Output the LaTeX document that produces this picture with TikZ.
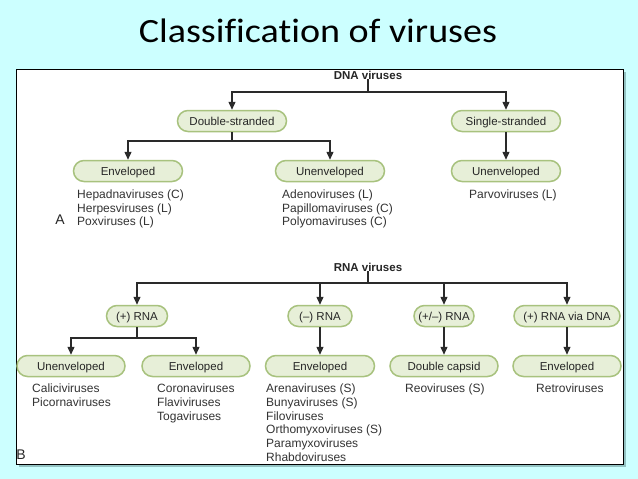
\documentclass[tikz,border=0pt]{standalone}
\usepackage{fontspec}
\setmainfont{Liberation Sans}
\newfontfamily\titlefont[Ligatures=NoCommon]{Carlito}
\usetikzlibrary{arrows.meta}
\definecolor{bgcyan}{HTML}{CCFFFF}
\definecolor{boxfill}{HTML}{E7EFD8}
\definecolor{boxline}{HTML}{A8C27E}
\definecolor{lncol}{HTML}{2A2A2A}
\definecolor{shadowcol}{HTML}{6E9A9A}
\begin{document}
\begin{tikzpicture}[x=1pt,y=-1pt,
  catbox/.style={draw=boxline,line width=1.5pt,fill=boxfill,rounded corners=10.5pt,
    minimum height=21pt,inner sep=0pt,text height=9.5pt,text depth=1.5pt,
    font=\fontsize{11.5}{13.5}\selectfont,text=black!85},
  headlbl/.style={font=\fontsize{11.5}{13.5}\selectfont\bfseries,inner sep=0pt,text=black!85},
  vlist/.style={anchor=north west,align=left,inner sep=0pt,font=\fontsize{12}{13.7}\selectfont,text=black!80},
  conn/.style={draw=lncol,line width=1.3pt},
  arr/.style={conn,-{Triangle[length=8pt,width=7pt]}},
  panlbl/.style={font=\fontsize{14}{16}\selectfont,inner sep=0pt,text=black!85}
]
\useasboundingbox (0,0) rectangle (638,479);
\fill[bgcyan] (0,0) rectangle (638,479);
\node[font=\titlefont\fontsize{34}{40}\selectfont,inner sep=0pt,anchor=base] (title) at (318,42) {\scalebox{1.12}[1]{Classification of viruses}};
% panel
\fill[shadowcol,opacity=0.6] (19,72) rectangle (626,467);
\draw[black,line width=1pt,fill=white] (16,69) rectangle (623,464);

% ---------- DNA ----------
\node[headlbl] (dna) at (368,75) {DNA viruses};
\coordinate (dbar) at (368,92);
\node[catbox,minimum width=109pt] (ds) at (232,121) {Double-stranded};
\node[catbox,minimum width=109pt] (ss) at (506,121) {Single-stranded};
\node[catbox,minimum width=109pt] (denv) at (128,171) {Enveloped};
\node[catbox,minimum width=109pt] (dun) at (330,171) {Unenveloped};
\node[catbox,minimum width=109pt] (ssun) at (506,171) {Unenveloped};
\coordinate (dsbar) at (232,141);
\draw[conn] (dna.south) -- (dbar);
\draw[arr] (dbar) -| (ds);
\draw[arr] (dbar) -| (ss);
\draw[conn] (ds) -- (dsbar);
\draw[arr] (dsbar) -| (denv);
\draw[arr] (dsbar) -| (dun);
\draw[arr] (ss) -- (ssun);
\node[vlist] (l1) at (77,189.5) {Hepadnaviruses (C)\\Herpesviruses (L)\\Poxviruses (L)};
\node[vlist] (l2) at (282,189.5) {Adenoviruses (L)\\Papillomaviruses (C)\\Polyomaviruses (C)};
\node[vlist] (l3) at (469,189.5) {Parvoviruses (L)};
\node[panlbl] (pa) at (60,220) {A};

% ---------- RNA ----------
\node[headlbl] (rna) at (368,267) {RNA viruses};
\coordinate (rbar) at (368,283);
\node[catbox,minimum width=61pt] (pr) at (137,316) {(+) RNA};
\node[catbox,minimum width=64pt] (nr) at (320,316) {(–) RNA};
\node[catbox,minimum width=60pt] (pmr) at (444,316) {(+/–) RNA};
\node[catbox,minimum width=106pt] (prd) at (567,316) {(+) RNA via DNA};
\draw[conn] (rna.south) -- (rbar);
\draw[arr] (rbar) -| (pr);
\draw[arr] (rbar) -| (nr);
\draw[arr] (rbar) -| (pmr);
\draw[arr] (rbar) -| (prd);
\node[catbox,minimum width=108pt] (run) at (71,366) {Unenveloped};
\node[catbox,minimum width=108pt] (renv) at (196,366) {Enveloped};
\node[catbox,minimum width=109pt] (nenv) at (320,366) {Enveloped};
\node[catbox,minimum width=108pt] (dcap) at (444,366) {Double capsid};
\node[catbox,minimum width=108pt] (retenv) at (567,366) {Enveloped};
\coordinate (prbar) at (137,338);
\draw[conn] (pr) -- (prbar);
\draw[arr] (prbar) -| (run);
\draw[arr] (prbar) -| (renv);
\draw[arr] (nr) -- (nenv);
\draw[arr] (pmr) -- (dcap);
\draw[arr] (prd) -- (retenv);
\node[vlist] (l4) at (32,384) {Caliciviruses\\Picornaviruses};
\node[vlist] (l5) at (157,384) {Coronaviruses\\Flaviviruses\\Togaviruses};
\node[vlist] (l6) at (266,384) {Arenaviruses (S)\\Bunyaviruses (S)\\Filoviruses\\Orthomyxoviruses (S)\\Paramyxoviruses\\Rhabdoviruses};
\node[vlist] (l7) at (405,384) {Reoviruses (S)};
\node[vlist] (l8) at (536,384) {Retroviruses};
\node[panlbl] (pb) at (21,455) {B};
\end{tikzpicture}
\end{document}
